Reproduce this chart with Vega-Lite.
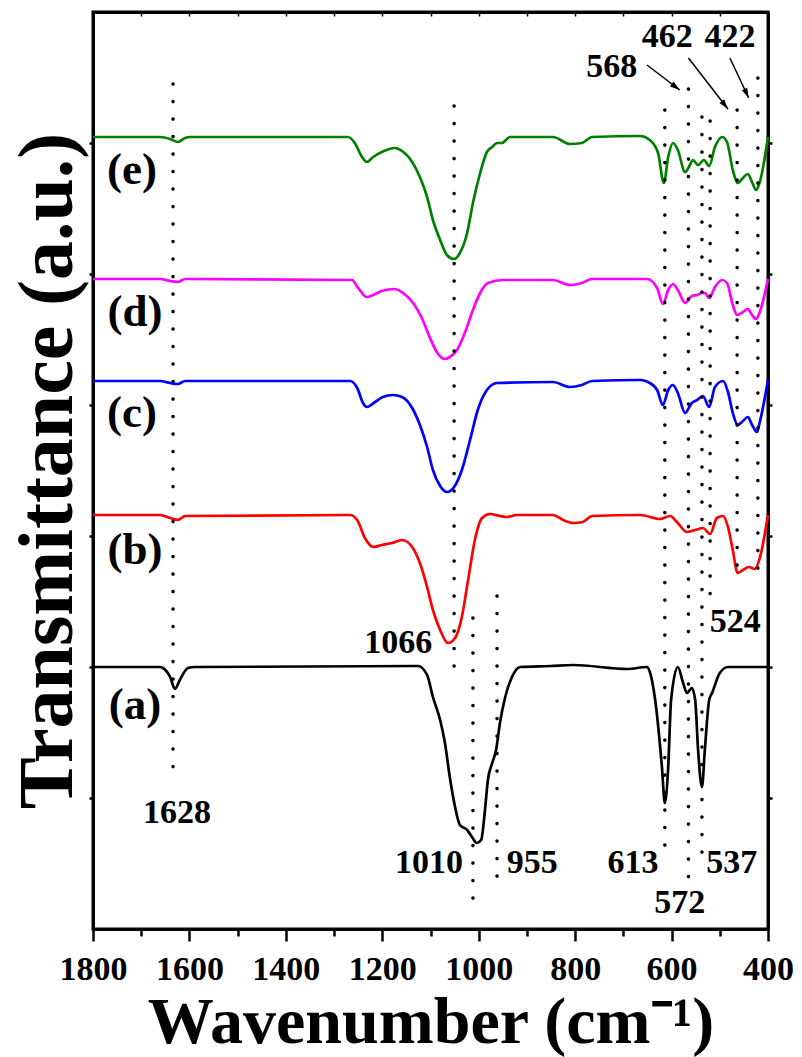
{
  "$schema": "https://vega.github.io/schema/vega-lite/v6.json",
  "width": 675,
  "height": 917,
  "autosize": {"type": "none"},
  "padding": {"left": 93, "top": 12, "right": 34, "bottom": 128},
  "background": "white",
  "config": {
    "view": {"stroke": "black", "strokeWidth": 3},
    "axis": {
      "domainColor": "black", "domainWidth": 3, "tickColor": "black", "tickWidth": 2.5, "grid": false,
      "labelFont": "Liberation Serif", "labelFontWeight": "bold", "labelFontSize": 34, "labelColor": "black",
      "labelOverlap": false, "labelFlush": false, "labelBound": false,
      "titleFont": "Liberation Serif", "titleFontWeight": "bold", "titleColor": "black"
    }
  },
  "datasets": {
    "curves": [
      {"series":"e","wavenumber":1800,"transmittance":792},{"series":"e","wavenumber":1661,"transmittance":792},{"series":"e","wavenumber":1640,"transmittance":790},{"series":"e","wavenumber":1624,"transmittance":787},{"series":"e","wavenumber":1609,"transmittance":791},{"series":"e","wavenumber":1599,"transmittance":792},{"series":"e","wavenumber":1271,"transmittance":792},{"series":"e","wavenumber":1257,"transmittance":786},{"series":"e","wavenumber":1242,"transmittance":772},{"series":"e","wavenumber":1232,"transmittance":767},{"series":"e","wavenumber":1219,"transmittance":772},{"series":"e","wavenumber":1201,"transmittance":777},{"series":"e","wavenumber":1174,"transmittance":781},{"series":"e","wavenumber":1159,"transmittance":778},{"series":"e","wavenumber":1138,"transmittance":767},{"series":"e","wavenumber":1122,"transmittance":752},{"series":"e","wavenumber":1107,"transmittance":732},{"series":"e","wavenumber":1095,"transmittance":709},{"series":"e","wavenumber":1080,"transmittance":689},{"series":"e","wavenumber":1066,"transmittance":674},{"series":"e","wavenumber":1051,"transmittance":670},{"series":"e","wavenumber":1039,"transmittance":676},{"series":"e","wavenumber":1024,"transmittance":696},{"series":"e","wavenumber":1012,"transmittance":726},{"series":"e","wavenumber":997,"transmittance":756},{"series":"e","wavenumber":983,"transmittance":777},{"series":"e","wavenumber":972,"transmittance":782},{"series":"e","wavenumber":962,"transmittance":786},{"series":"e","wavenumber":952,"transmittance":786},{"series":"e","wavenumber":935,"transmittance":792},{"series":"e","wavenumber":846,"transmittance":792},{"series":"e","wavenumber":811,"transmittance":785},{"series":"e","wavenumber":786,"transmittance":786},{"series":"e","wavenumber":765,"transmittance":792},{"series":"e","wavenumber":665,"transmittance":793},{"series":"e","wavenumber":645,"transmittance":789},{"series":"e","wavenumber":628,"transmittance":776},{"series":"e","wavenumber":616,"transmittance":746},{"series":"e","wavenumber":607,"transmittance":772},{"series":"e","wavenumber":597,"transmittance":786},{"series":"e","wavenumber":587,"transmittance":779},{"series":"e","wavenumber":572,"transmittance":757},{"series":"e","wavenumber":562,"transmittance":764},{"series":"e","wavenumber":556,"transmittance":769},{"series":"e","wavenumber":545,"transmittance":764},{"series":"e","wavenumber":533,"transmittance":769},{"series":"e","wavenumber":522,"transmittance":763},{"series":"e","wavenumber":510,"transmittance":782},{"series":"e","wavenumber":495,"transmittance":792},{"series":"e","wavenumber":485,"transmittance":787},{"series":"e","wavenumber":473,"transmittance":759},{"series":"e","wavenumber":463,"transmittance":746},{"series":"e","wavenumber":452,"transmittance":751},{"series":"e","wavenumber":442,"transmittance":755},{"series":"e","wavenumber":433,"transmittance":747},{"series":"e","wavenumber":425,"transmittance":739},{"series":"e","wavenumber":417,"transmittance":747},{"series":"e","wavenumber":400,"transmittance":792},

      {"series":"d","wavenumber":1800,"transmittance":650},{"series":"d","wavenumber":1661,"transmittance":650},{"series":"d","wavenumber":1640,"transmittance":648},{"series":"d","wavenumber":1624,"transmittance":647},{"series":"d","wavenumber":1609,"transmittance":650},{"series":"d","wavenumber":1263,"transmittance":649},{"series":"d","wavenumber":1250,"transmittance":641},{"series":"d","wavenumber":1232,"transmittance":632},{"series":"d","wavenumber":1219,"transmittance":634},{"series":"d","wavenumber":1201,"transmittance":638},{"series":"d","wavenumber":1174,"transmittance":640},{"series":"d","wavenumber":1157,"transmittance":636},{"series":"d","wavenumber":1136,"transmittance":626},{"series":"d","wavenumber":1118,"transmittance":611},{"series":"d","wavenumber":1101,"transmittance":591},{"series":"d","wavenumber":1087,"transmittance":577},{"series":"d","wavenumber":1070,"transmittance":570},{"series":"d","wavenumber":1060,"transmittance":572},{"series":"d","wavenumber":1045,"transmittance":579},{"series":"d","wavenumber":1028,"transmittance":597},{"series":"d","wavenumber":1012,"transmittance":619},{"series":"d","wavenumber":997,"transmittance":636},{"series":"d","wavenumber":981,"transmittance":646},{"series":"d","wavenumber":950,"transmittance":649},{"series":"d","wavenumber":846,"transmittance":649},{"series":"d","wavenumber":811,"transmittance":644},{"series":"d","wavenumber":786,"transmittance":646},{"series":"d","wavenumber":765,"transmittance":650},{"series":"d","wavenumber":651,"transmittance":650},{"series":"d","wavenumber":630,"transmittance":641},{"series":"d","wavenumber":618,"transmittance":625},{"series":"d","wavenumber":607,"transmittance":639},{"series":"d","wavenumber":597,"transmittance":645},{"series":"d","wavenumber":587,"transmittance":639},{"series":"d","wavenumber":572,"transmittance":626},{"series":"d","wavenumber":558,"transmittance":633},{"series":"d","wavenumber":547,"transmittance":634},{"series":"d","wavenumber":537,"transmittance":636},{"series":"d","wavenumber":531,"transmittance":636},{"series":"d","wavenumber":522,"transmittance":631},{"series":"d","wavenumber":510,"transmittance":642},{"series":"d","wavenumber":495,"transmittance":649},{"series":"d","wavenumber":485,"transmittance":646},{"series":"d","wavenumber":473,"transmittance":624},{"series":"d","wavenumber":464,"transmittance":614},{"series":"d","wavenumber":452,"transmittance":617},{"series":"d","wavenumber":442,"transmittance":620},{"series":"d","wavenumber":433,"transmittance":614},{"series":"d","wavenumber":425,"transmittance":610},{"series":"d","wavenumber":417,"transmittance":617},{"series":"d","wavenumber":400,"transmittance":650},

      {"series":"c","wavenumber":1800,"transmittance":548},{"series":"c","wavenumber":1661,"transmittance":548},{"series":"c","wavenumber":1640,"transmittance":546},{"series":"c","wavenumber":1624,"transmittance":545},{"series":"c","wavenumber":1609,"transmittance":548},{"series":"c","wavenumber":1267,"transmittance":548},{"series":"c","wavenumber":1252,"transmittance":541},{"series":"c","wavenumber":1240,"transmittance":526},{"series":"c","wavenumber":1232,"transmittance":522},{"series":"c","wavenumber":1215,"transmittance":527},{"series":"c","wavenumber":1199,"transmittance":532},{"series":"c","wavenumber":1178,"transmittance":534},{"series":"c","wavenumber":1159,"transmittance":532},{"series":"c","wavenumber":1138,"transmittance":521},{"series":"c","wavenumber":1122,"transmittance":504},{"series":"c","wavenumber":1107,"transmittance":482},{"series":"c","wavenumber":1095,"transmittance":459},{"series":"c","wavenumber":1080,"transmittance":443},{"series":"c","wavenumber":1066,"transmittance":437},{"series":"c","wavenumber":1051,"transmittance":442},{"series":"c","wavenumber":1035,"transmittance":459},{"series":"c","wavenumber":1018,"transmittance":489},{"series":"c","wavenumber":1002,"transmittance":519},{"series":"c","wavenumber":983,"transmittance":539},{"series":"c","wavenumber":962,"transmittance":546},{"series":"c","wavenumber":846,"transmittance":547},{"series":"c","wavenumber":811,"transmittance":542},{"series":"c","wavenumber":786,"transmittance":544},{"series":"c","wavenumber":765,"transmittance":548},{"series":"c","wavenumber":665,"transmittance":549},{"series":"c","wavenumber":649,"transmittance":547},{"series":"c","wavenumber":630,"transmittance":539},{"series":"c","wavenumber":618,"transmittance":524},{"series":"c","wavenumber":607,"transmittance":539},{"series":"c","wavenumber":597,"transmittance":544},{"series":"c","wavenumber":587,"transmittance":536},{"series":"c","wavenumber":572,"transmittance":516},{"series":"c","wavenumber":558,"transmittance":526},{"series":"c","wavenumber":547,"transmittance":529},{"series":"c","wavenumber":535,"transmittance":533},{"series":"c","wavenumber":522,"transmittance":522},{"series":"c","wavenumber":510,"transmittance":542},{"series":"c","wavenumber":493,"transmittance":548},{"series":"c","wavenumber":483,"transmittance":537},{"series":"c","wavenumber":473,"transmittance":516},{"series":"c","wavenumber":463,"transmittance":504},{"series":"c","wavenumber":452,"transmittance":508},{"series":"c","wavenumber":442,"transmittance":512},{"series":"c","wavenumber":433,"transmittance":504},{"series":"c","wavenumber":423,"transmittance":497},{"series":"c","wavenumber":417,"transmittance":507},{"series":"c","wavenumber":400,"transmittance":549},

      {"series":"b","wavenumber":1800,"transmittance":414},{"series":"b","wavenumber":1661,"transmittance":414},{"series":"b","wavenumber":1640,"transmittance":411},{"series":"b","wavenumber":1624,"transmittance":409},{"series":"b","wavenumber":1609,"transmittance":413},{"series":"b","wavenumber":1267,"transmittance":414},{"series":"b","wavenumber":1252,"transmittance":409},{"series":"b","wavenumber":1236,"transmittance":391},{"series":"b","wavenumber":1219,"transmittance":382},{"series":"b","wavenumber":1201,"transmittance":384},{"series":"b","wavenumber":1180,"transmittance":386},{"series":"b","wavenumber":1159,"transmittance":389},{"series":"b","wavenumber":1138,"transmittance":382},{"series":"b","wavenumber":1122,"transmittance":366},{"series":"b","wavenumber":1107,"transmittance":342},{"series":"b","wavenumber":1095,"transmittance":319},{"series":"b","wavenumber":1080,"transmittance":299},{"series":"b","wavenumber":1064,"transmittance":286},{"series":"b","wavenumber":1049,"transmittance":291},{"series":"b","wavenumber":1035,"transmittance":312},{"series":"b","wavenumber":1022,"transmittance":349},{"series":"b","wavenumber":1008,"transmittance":389},{"series":"b","wavenumber":993,"transmittance":411},{"series":"b","wavenumber":977,"transmittance":415},{"series":"b","wavenumber":956,"transmittance":413},{"series":"b","wavenumber":941,"transmittance":412},{"series":"b","wavenumber":921,"transmittance":414},{"series":"b","wavenumber":846,"transmittance":414},{"series":"b","wavenumber":825,"transmittance":409},{"series":"b","wavenumber":804,"transmittance":406},{"series":"b","wavenumber":784,"transmittance":407},{"series":"b","wavenumber":765,"transmittance":413},{"series":"b","wavenumber":665,"transmittance":414},{"series":"b","wavenumber":624,"transmittance":410},{"series":"b","wavenumber":603,"transmittance":413},{"series":"b","wavenumber":589,"transmittance":407},{"series":"b","wavenumber":568,"transmittance":397},{"series":"b","wavenumber":551,"transmittance":399},{"series":"b","wavenumber":535,"transmittance":401},{"series":"b","wavenumber":520,"transmittance":395},{"series":"b","wavenumber":506,"transmittance":411},{"series":"b","wavenumber":493,"transmittance":413},{"series":"b","wavenumber":483,"transmittance":402},{"series":"b","wavenumber":473,"transmittance":379},{"series":"b","wavenumber":463,"transmittance":356},{"series":"b","wavenumber":452,"transmittance":359},{"series":"b","wavenumber":440,"transmittance":362},{"series":"b","wavenumber":427,"transmittance":360},{"series":"b","wavenumber":417,"transmittance":371},{"series":"b","wavenumber":400,"transmittance":414},

      {"series":"a","wavenumber":1800,"transmittance":262},{"series":"a","wavenumber":1661,"transmittance":262},{"series":"a","wavenumber":1655,"transmittance":261},{"series":"a","wavenumber":1640,"transmittance":252},{"series":"a","wavenumber":1630,"transmittance":240},{"series":"a","wavenumber":1620,"transmittance":249},{"series":"a","wavenumber":1603,"transmittance":261},{"series":"a","wavenumber":1589,"transmittance":262},{"series":"a","wavenumber":1126,"transmittance":263},{"series":"a","wavenumber":1107,"transmittance":254},{"series":"a","wavenumber":1095,"transmittance":232},{"series":"a","wavenumber":1080,"transmittance":209},{"series":"a","wavenumber":1070,"transmittance":186},{"series":"a","wavenumber":1060,"transmittance":152},{"series":"a","wavenumber":1049,"transmittance":122},{"series":"a","wavenumber":1039,"transmittance":104},{"series":"a","wavenumber":1024,"transmittance":99},{"series":"a","wavenumber":1014,"transmittance":92},{"series":"a","wavenumber":1004,"transmittance":86},{"series":"a","wavenumber":995,"transmittance":89},{"series":"a","wavenumber":987,"transmittance":119},{"series":"a","wavenumber":981,"transmittance":149},{"series":"a","wavenumber":972,"transmittance":166},{"series":"a","wavenumber":964,"transmittance":179},{"series":"a","wavenumber":956,"transmittance":206},{"series":"a","wavenumber":945,"transmittance":232},{"series":"a","wavenumber":931,"transmittance":252},{"series":"a","wavenumber":914,"transmittance":262},{"series":"a","wavenumber":852,"transmittance":263},{"series":"a","wavenumber":804,"transmittance":264},{"series":"a","wavenumber":692,"transmittance":260},{"series":"a","wavenumber":651,"transmittance":262},{"series":"a","wavenumber":645,"transmittance":257},{"series":"a","wavenumber":634,"transmittance":229},{"series":"a","wavenumber":620,"transmittance":162},{"series":"a","wavenumber":614,"transmittance":126},{"series":"a","wavenumber":607,"transmittance":162},{"series":"a","wavenumber":601,"transmittance":229},{"series":"a","wavenumber":587,"transmittance":262},{"series":"a","wavenumber":576,"transmittance":246},{"series":"a","wavenumber":568,"transmittance":236},{"series":"a","wavenumber":558,"transmittance":241},{"series":"a","wavenumber":551,"transmittance":229},{"series":"a","wavenumber":545,"transmittance":179},{"series":"a","wavenumber":537,"transmittance":142},{"series":"a","wavenumber":531,"transmittance":179},{"series":"a","wavenumber":522,"transmittance":229},{"series":"a","wavenumber":516,"transmittance":236},{"series":"a","wavenumber":500,"transmittance":256},{"series":"a","wavenumber":483,"transmittance":262},{"series":"a","wavenumber":400,"transmittance":262}
    ],
    "markers": [
      {"wavenumber":1634,"top":845,"bottom":159},
      {"wavenumber":1051,"top":823,"bottom":257},
      {"wavenumber":1012,"top":311,"bottom":18},
      {"wavenumber":962,"top":333,"bottom":41},
      {"wavenumber":614,"top":819,"bottom":81},
      {"wavenumber":565,"top":840,"bottom":46},
      {"wavenumber":537,"top":812,"bottom":74},
      {"wavenumber":520,"top":808,"bottom":331},
      {"wavenumber":464,"top":819,"bottom":351},
      {"wavenumber":421,"top":851,"bottom":354}
    ],
    "peakLabels": [
      {"label":"1628","wavenumber":1626,"level":116},
      {"label":"1066","wavenumber":1167,"level":286},
      {"label":"1010","wavenumber":1103,"level":66},
      {"label":"955","wavenumber":889,"level":66},
      {"label":"613","wavenumber":680,"level":66},
      {"label":"572","wavenumber":583,"level":26},
      {"label":"537","wavenumber":475,"level":66},
      {"label":"524","wavenumber":468,"level":307},
      {"label":"568","wavenumber":724,"level":862},
      {"label":"462","wavenumber":609,"level":892},
      {"label":"422","wavenumber":479,"level":892}
    ],
    "seriesLabels": [
      {"label":"(e)","wavenumber":1719,"level":759},
      {"label":"(d)","wavenumber":1713,"level":617},
      {"label":"(c)","wavenumber":1719,"level":516},
      {"label":"(b)","wavenumber":1713,"level":379},
      {"label":"(a)","wavenumber":1713,"level":224}
    ],
    "arrows": [
      {"label":"568","fromWavenumber":651,"fromLevel":864,"toWavenumber":583,"toLevel":839},
      {"label":"462","fromWavenumber":565,"fromLevel":871,"toWavenumber":483,"toLevel":820},
      {"label":"422","fromWavenumber":479,"fromLevel":871,"toWavenumber":440,"toLevel":831}
    ]
  },
  "resolve": {"axis": {"x": "independent", "y": "independent"}},
  "layer": [
    {
      "data": {"name": "curves"},
      "mark": {"type": "line", "strokeWidth": 2.7, "interpolate": "monotone"},
      "encoding": {
        "x": {"field": "wavenumber", "type": "quantitative",
              "scale": {"domain": [400, 1800], "reverse": true, "nice": false, "zero": false},
              "axis": {"orient": "bottom", "values": [1800,1600,1400,1200,1000,800,600,400], "format": "d",
                       "tickSize": 12, "labelPadding": 11, "title": "Wavenumber (cm⁻¹)", "titleFontSize": 66, "titlePadding": 4}},
        "y": {"field": "transmittance", "type": "quantitative",
              "scale": {"domain": [0, 917], "nice": false, "zero": false},
              "axis": {"orient": "left", "values": [131,262,393,524,655,786], "tickSize": 4, "labels": false,
                       "title": "Transmittance (a.u.)", "titleFontSize": 78, "titlePadding": 0}},
        "color": {"field": "series", "type": "nominal",
                  "scale": {"domain": ["a","b","c","d","e"], "range": ["#000000","#ff0000","#0000ff","#ff00ff","#008000"]},
                  "legend": null},
        "order": {"field": "wavenumber", "sort": "descending"}
      }
    },
    {
      "data": {"name": "markers"},
      "mark": {"type": "rule", "strokeDash": [0.1, 17.4], "strokeCap": "round", "strokeWidth": 3.6, "color": "black"},
      "encoding": {
        "x": {"field": "wavenumber", "type": "quantitative",
              "axis": {"orient": "bottom", "values": [1700,1500,1300,1100,900,700,500], "tickSize": 7, "labels": false, "domain": false, "title": null}},
        "y": {"field": "top", "type": "quantitative",
              "axis": {"orient": "right", "values": [131,262,393,524,655,786], "tickSize": 4, "labels": false, "title": null}},
        "y2": {"field": "bottom"}
      }
    },
    {
      "data": {"name": "peakLabels"},
      "mark": {"type": "text", "font": "Liberation Serif", "fontWeight": "bold", "fontSize": 34, "align": "center", "baseline": "middle", "color": "black"},
      "encoding": {
        "x": {"field": "wavenumber", "type": "quantitative",
              "axis": {"orient": "top", "values": [1700,1600,1500,1400,1300,1200,1100,1000,900,800,700,600,500], "tickSize": -4, "tickWidth": 1.5, "labels": false, "title": null}},
        "y": {"field": "level", "type": "quantitative", "axis": null},
        "text": {"field": "label"}
      }
    },
    {
      "data": {"name": "seriesLabels"},
      "mark": {"type": "text", "font": "Liberation Serif", "fontWeight": "bold", "fontSize": 45, "align": "center", "baseline": "middle", "color": "black"},
      "encoding": {
        "x": {"field": "wavenumber", "type": "quantitative", "axis": null},
        "y": {"field": "level", "type": "quantitative", "axis": null},
        "text": {"field": "label"}
      }
    },
    {
      "data": {"name": "arrows"},
      "mark": {"type": "rule", "strokeWidth": 1.5, "color": "black"},
      "encoding": {
        "x": {"field": "fromWavenumber", "type": "quantitative", "axis": null},
        "y": {"field": "fromLevel", "type": "quantitative", "axis": null},
        "x2": {"field": "toWavenumber"},
        "y2": {"field": "toLevel"}
      }
    },
    {
      "data": {"name": "arrows"},
      "transform": [{"filter": "datum.label == '568'"}],
      "mark": {"type": "point", "shape": "M0,0L0.6,2L-0.6,2Z", "filled": true, "size": 100, "angle": 127, "color": "black", "opacity": 1},
      "encoding": {
        "x": {"field": "toWavenumber", "type": "quantitative", "axis": null},
        "y": {"field": "toLevel", "type": "quantitative", "axis": null}
      }
    },
    {
      "data": {"name": "arrows"},
      "transform": [{"filter": "datum.label == '462'"}],
      "mark": {"type": "point", "shape": "M0,0L0.6,2L-0.6,2Z", "filled": true, "size": 100, "angle": 142, "color": "black", "opacity": 1},
      "encoding": {
        "x": {"field": "toWavenumber", "type": "quantitative", "axis": null},
        "y": {"field": "toLevel", "type": "quantitative", "axis": null}
      }
    },
    {
      "data": {"name": "arrows"},
      "transform": [{"filter": "datum.label == '422'"}],
      "mark": {"type": "point", "shape": "M0,0L0.6,2L-0.6,2Z", "filled": true, "size": 100, "angle": 155, "color": "black", "opacity": 1},
      "encoding": {
        "x": {"field": "toWavenumber", "type": "quantitative", "axis": null},
        "y": {"field": "toLevel", "type": "quantitative", "axis": null}
      }
    }
  ]
}
